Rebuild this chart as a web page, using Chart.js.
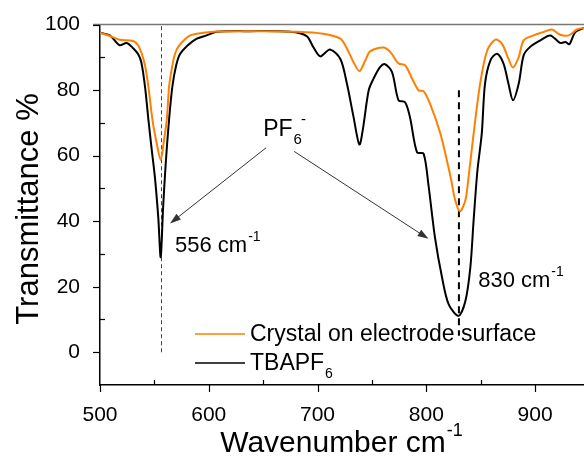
<!DOCTYPE html>
<html>
<head>
<meta charset="utf-8">
<script src="https://cdn.jsdelivr.net/npm/chart.js@4/dist/chart.umd.min.js"></script>
<style>
  html, body { margin: 0; padding: 0; background: #fff; }
  #wrap { width: 584px; height: 466px; position: relative; }
</style>
</head>
<body>
<div id="wrap"><canvas id="irChart"></canvas></div>
<script>
// IR transmittance, 500-945 cm-1
const crystalX = [500, 509, 518, 530.5, 535, 538.4, 541.4, 544.5, 548.2, 552, 555.8, 558.5, 561.4, 563.5, 566, 569, 573, 583, 595, 607, 647, 681, 705, 721, 727, 733, 738.5, 744, 748.5, 760.5, 767, 774.5, 780.5, 787, 793, 797.5, 803.5, 813, 820, 823, 826.5, 831, 836, 838.5, 843.5, 849.5, 856, 863.5, 869.5, 875.5, 879.7, 885, 889.5, 898.5, 907.5, 915.5, 923, 931, 938.5, 945];
const crystalY = [97.5, 96.5, 95.4, 95, 93.7, 91.1, 87.5, 81, 71, 64, 58.7, 64, 71, 81, 86.5, 91.1, 93.7, 96.7, 97.5, 97.9, 98, 97.8, 97.2, 95.7, 92.7, 88.6, 85.8, 89.1, 91.9, 93, 91.6, 88.1, 87.6, 83.5, 79.9, 79.7, 75.8, 66.7, 57, 52.4, 46.5, 43, 46.5, 52.4, 66.7, 82, 92.1, 95.4, 94.2, 89.6, 86.9, 90.1, 95.2, 96.7, 97.7, 98.5, 96.9, 96.7, 98.5, 99];

const tbaX = [500, 509, 518, 524.5, 530.5, 535, 538, 541.4, 544.5, 547.5, 550.6, 553.6, 555.8, 558, 560.5, 563.5, 566.5, 570, 573.6, 580, 589, 598, 607, 638, 675, 690, 696, 702.5, 711.5, 721, 727, 733, 738.5, 742, 747, 751.5, 757.5, 762, 768.5, 774.5, 780.5, 785, 791.5, 797.5, 802, 808, 814.5, 820.5, 829.6, 836, 840.5, 843.5, 847, 851, 854, 859, 865, 871, 875.5, 879.7, 885, 889.5, 895.5, 905, 914, 923, 928, 931.5, 937, 945];
const tbaY = [97.5, 96.7, 93.7, 94.4, 92.8, 91, 88.5, 81, 71, 62, 53, 41, 29, 44, 58, 71, 81, 87.5, 91, 93.5, 95.7, 96.7, 97.8, 98, 97.8, 96.5, 93.2, 90.3, 92.4, 89.5, 82, 72, 63.4, 68.7, 79.9, 83.5, 87, 87.9, 85.5, 76.9, 76.3, 71.7, 61, 60.6, 51, 35, 22.8, 14.7, 11.1, 15.7, 25.9, 40.2, 55.4, 66.7, 82, 89.1, 91.1, 88.1, 82, 76.9, 82, 90.6, 93.2, 95.2, 96.7, 94.4, 94.7, 94, 97.7, 99];

const xTickLabels = [500, 600, 700, 800, 900];
const yTickLabels = [0, 20, 40, 60, 80, 100];
const peakLines = [556, 830];

const FONT = '"Liberation Sans", Arial, sans-serif';
const ORANGE = '#ff8000';

function toPoints(xs, ys) {
  return xs.map((x, i) => ({ x: x, y: ys[i] }));
}

// text with optional subscript / superscript, left aligned at (x, baseline y)
function richText(ctx, x, y, base, size, sub, sup, subSize) {
  ctx.font = size + 'px ' + FONT;
  ctx.textAlign = 'left';
  ctx.textBaseline = 'alphabetic';
  ctx.fillText(base, x, y);
  let end = x + ctx.measureText(base).width;
  ctx.font = subSize + 'px ' + FONT;
  if (sub) {
    ctx.fillText(sub, end + 1, y + size * 0.36);
  }
  if (sup) {
    const sx = sub ? end + 1 + ctx.measureText(sub).width * 0.9 : end + 1;
    ctx.fillText(sup, sx, y - size * 0.52);
  }
}

function arrow(ctx, x1, y1, x2, y2) {
  const ang = Math.atan2(y2 - y1, x2 - x1);
  const len = 11, half = 3.6;
  ctx.beginPath();
  ctx.moveTo(x1, y1);
  ctx.lineTo(x2 - Math.cos(ang) * len * 0.8, y2 - Math.sin(ang) * len * 0.8);
  ctx.stroke();
  ctx.beginPath();
  ctx.moveTo(x2, y2);
  ctx.lineTo(x2 - Math.cos(ang) * len - Math.sin(ang) * half, y2 - Math.sin(ang) * len + Math.cos(ang) * half);
  ctx.lineTo(x2 - Math.cos(ang) * len + Math.sin(ang) * half, y2 - Math.sin(ang) * len - Math.cos(ang) * half);
  ctx.closePath();
  ctx.fill();
}

const peakGuides = {
  id: 'peakGuides',
  beforeDatasetsDraw(chart) {
    const ctx = chart.ctx, xs = chart.scales.x, ys = chart.scales.y;
    ctx.save();
    // 556 line, thin
    let px = Math.round(xs.getPixelForValue(peakLines[0])) + 0.5;
    ctx.strokeStyle = '#444';
    ctx.lineWidth = 1;
    ctx.setLineDash([4, 3]);
    ctx.beginPath();
    ctx.moveTo(px, ys.getPixelForValue(99.5));
    ctx.lineTo(px, ys.getPixelForValue(0));
    ctx.stroke();
    // 830 line, heavier
    px = xs.getPixelForValue(peakLines[1]);
    ctx.strokeStyle = '#000';
    ctx.lineWidth = 2;
    ctx.setLineDash([7, 5]);
    ctx.beginPath();
    ctx.moveTo(px, ys.getPixelForValue(80));
    ctx.lineTo(px, ys.getPixelForValue(5));
    ctx.stroke();
    ctx.restore();
  },
  afterDraw(chart) {
    const ctx = chart.ctx, xs = chart.scales.x, ys = chart.scales.y, a = chart.chartArea;
    ctx.save();

    // top frame line
    ctx.strokeStyle = '#777';
    ctx.lineWidth = 1.5;
    ctx.beginPath();
    ctx.moveTo(a.left - 7, a.top);
    ctx.lineTo(a.right, a.top);
    ctx.stroke();

    // tick marks: major outside, minor inside
    ctx.strokeStyle = '#000';
    ctx.lineWidth = 1.2;
    xs.ticks.forEach(t => {
      const p = Math.round(xs.getPixelForValue(t.value)) + 0.5;
      const major = xTickLabels.includes(t.value);
      ctx.beginPath();
      ctx.moveTo(p, a.bottom);
      ctx.lineTo(p, major ? a.bottom + 7 : a.bottom - 5);
      ctx.stroke();
    });
    ys.ticks.forEach(t => {
      if (t.value < 0) return;
      const p = Math.round(ys.getPixelForValue(t.value)) + 0.5;
      const major = yTickLabels.includes(t.value);
      ctx.beginPath();
      ctx.moveTo(a.left, p);
      ctx.lineTo(major ? a.left - 7 : a.left + 5, p);
      ctx.stroke();
    });

    // axis titles
    ctx.fillStyle = '#000';
    ctx.font = '30px ' + FONT;
    const xt = 'Wavenumber cm';
    const xw = ctx.measureText(xt).width;
    richText(ctx, (a.left + a.right) / 2 - xw / 2 - 9, 452, xt, 30, null, '-1', 18);
    ctx.save();
    ctx.translate(38, 209);
    ctx.rotate(-Math.PI / 2);
    ctx.font = '31px ' + FONT;
    ctx.textAlign = 'center';
    ctx.textBaseline = 'alphabetic';
    ctx.fillText('Transmittance %', 0, 0);
    ctx.restore();

    // peak annotations
    ctx.fillStyle = '#000';
    richText(ctx, xs.getPixelForValue(650), ys.getPixelForValue(66.1), 'PF', 23, '6', '-', 15);
    richText(ctx, xs.getPixelForValue(569), ys.getPixelForValue(30.5), '556 cm', 22, null, '-1', 14);
    richText(ctx, xs.getPixelForValue(847.7), ys.getPixelForValue(19.8), '830 cm', 22, null, '-1', 14);
    ctx.strokeStyle = '#333';
    ctx.fillStyle = '#333';
    ctx.lineWidth = 1;
    arrow(ctx, xs.getPixelForValue(652.7), ys.getPixelForValue(62.4), xs.getPixelForValue(564.4), ys.getPixelForValue(39.3));
    arrow(ctx, xs.getPixelForValue(678.5), ys.getPixelForValue(61.3), xs.getPixelForValue(802), ys.getPixelForValue(34.6));

    // legend
    const sets = chart.data.datasets;
    const lx = a.left + 95, rowY = [a.bottom - 51, a.bottom - 22];
    sets.forEach((ds, i) => {
      ctx.strokeStyle = ds.borderColor;
      ctx.lineWidth = 1.5;
      ctx.beginPath();
      ctx.moveTo(lx, rowY[i]);
      ctx.lineTo(lx + 50, rowY[i]);
      ctx.stroke();
      ctx.fillStyle = '#000';
      richText(ctx, lx + 55, rowY[i] + 7, ds.label, 23, ds.labelSub, null, 14);
    });
    ctx.restore();
  }
};

new Chart(document.getElementById('irChart'), {
  type: 'line',
  data: {
    datasets: [{
      label: 'Crystal on electrode surface',
      data: toPoints(crystalX, crystalY),
      borderColor: ORANGE,
      borderWidth: 2,
      pointRadius: 0,
      tension: 0.3,
      fill: false
    }, {
      label: 'TBAPF',
      labelSub: '6',
      data: toPoints(tbaX, tbaY),
      borderColor: '#000',
      borderWidth: 2,
      pointRadius: 0,
      tension: 0.3,
      fill: false
    }]
  },
  options: {
    responsive: true,
    maintainAspectRatio: false,
    animation: false,
    layout: { padding: { top: 24, right: 0, left: 0, bottom: 0 } },
    plugins: {
      legend: { display: false },
      tooltip: { enabled: false }
    },
    scales: {
      x: {
        type: 'linear',
        min: 500,
        max: 945,
        afterFit: s => { s.height = 81; },
        grid: { display: false },
        border: { display: true, color: '#000', width: 1.5 },
        ticks: {
          stepSize: 50,
          includeBounds: false,
          autoSkip: false,
          maxRotation: 0,
          padding: 10,
          color: '#000',
          font: { family: FONT, size: 21 },
          callback: v => xTickLabels.includes(v) ? String(v) : ''
        }
      },
      y: {
        min: -10,
        max: 100,
        afterFit: s => { s.width = 100; },
        grid: { display: false },
        border: { display: true, color: '#000', width: 1.5 },
        ticks: {
          stepSize: 10,
          autoSkip: false,
          padding: 12,
          color: '#000',
          font: { family: FONT, size: 21 },
          callback: v => yTickLabels.includes(v) ? String(v) : ''
        }
      }
    }
  },
  plugins: [peakGuides]
});
</script>
</body>
</html>
